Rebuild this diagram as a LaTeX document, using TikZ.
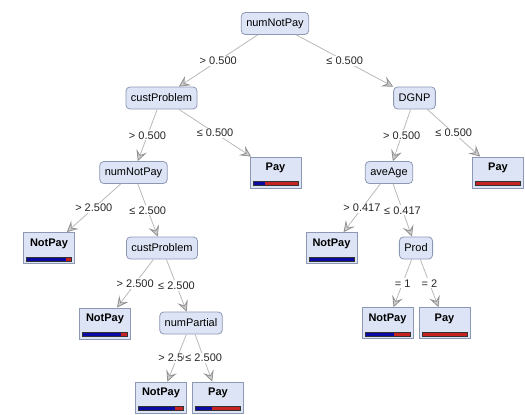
\documentclass[tikz,border=0pt]{standalone}
\usepackage{fontspec}
\setmainfont{Liberation Sans}
\usetikzlibrary{arrows.meta,calc}
\definecolor{splitfill}{RGB}{221,228,245}
\definecolor{splitdraw}{RGB}{140,152,180}
\definecolor{edgegray}{RGB}{185,185,185}
\definecolor{tipgray}{RGB}{145,145,145}
\definecolor{barblue}{RGB}{10,10,165}
\definecolor{barred}{RGB}{200,35,35}
\tikzset{
    treesplit/.style={draw=splitdraw, fill=splitfill, line width=0.8pt, rounded corners=4pt, minimum height=22pt, inner xsep=5pt, font=\fontsize{11}{13}\selectfont},
    treeleaf/.style={draw=splitdraw, fill=splitfill, line width=0.8pt, minimum width=51pt, text height=10pt, text depth=14pt, inner ysep=3.5pt, font=\bfseries\fontsize{11}{13}\selectfont},
    treeedge/.style={draw=edgegray, line width=0.8pt, -{Stealth[length=11pt, width=11pt, inset=4.5pt, color=tipgray, fill=edgegray!70]}},
    treelabel/.style={fill=white, inner sep=1.2pt, font=\fontsize{11}{13}\selectfont, text=black!85},
    treebar/.style={draw=black!80, line width=0.6pt}
}
% leaf: name, centre, class, share of blue in the bar
\newcommand{\leafnode}[4]{%
    \node[treeleaf] (#1) at (#2) {#3};
    \coordinate (#1bl) at ($(#1.south west)+(3.5pt,3pt)$);
    \coordinate (#1tr) at ($(#1.south east)+(-3.5pt,7pt)$);
    \coordinate (#1mid) at ($(#1bl)!#4!(#1tr)$);
    \fill[barred] (#1bl) rectangle (#1tr);
    \fill[barblue] (#1bl) rectangle (#1mid |- #1tr);
    \draw[treebar] (#1bl) rectangle (#1tr);
}

\begin{document}
\begin{tikzpicture}[x=1pt, y=-1pt]
    \useasboundingbox (0,0) rectangle (525,415);

    \node[treesplit] (root) at (275,23.5) {numNotPay};
    \node[treesplit] (custprob) at (161.5,98) {custProblem};
    \node[treesplit] (dgnp) at (414.5,98) {DGNP};
    \node[treesplit] (notpaycount) at (133.5,172.5) {numNotPay};
    \node[treesplit] (age) at (389,172.5) {aveAge};
    \node[treesplit] (custprobb) at (162,248) {custProblem};
    \node[treesplit] (prod) at (416,248) {Prod};
    \node[treesplit] (partial) at (191,323) {numPartial};

    \leafnode{payA}{275.5,172.5}{Pay}{0.27}
    \leafnode{payB}{498,172.5}{Pay}{0}
    \leafnode{notpayA}{49,248}{NotPay}{0.87}
    \leafnode{notpayB}{331.5,248}{NotPay}{1}
    \leafnode{notpayC}{105,323.5}{NotPay}{0.85}
    \leafnode{notpayD}{387.5,323}{NotPay}{0.65}
    \leafnode{payC}{444.5,323}{Pay}{0}
    \leafnode{notpayE}{161,397.5}{NotPay}{0.82}
    \leafnode{payD}{218,397.5}{Pay}{0.37}

    \draw[treeedge] (root) -- node[treelabel] {> 0.500} (custprob);
    \draw[treeedge] (root) -- node[treelabel] {≤ 0.500} (dgnp);
    \draw[treeedge] (custprob) -- node[treelabel] {> 0.500} (notpaycount);
    \draw[treeedge] (custprob) -- node[treelabel] {≤ 0.500} (payA);
    \draw[treeedge] (dgnp) -- node[treelabel] {> 0.500} (age);
    \draw[treeedge] (dgnp) -- node[treelabel] {≤ 0.500} (payB);
    \draw[treeedge] (notpaycount) -- node[treelabel] {> 2.500} (notpayA);
    \draw[treeedge] (notpaycount) -- node[treelabel] {≤ 2.500} (custprobb);
    \draw[treeedge] (age) -- node[treelabel] {> 0.417} (notpayB);
    \draw[treeedge] (age) -- node[treelabel] {≤ 0.417} (prod);
    \draw[treeedge] (custprobb) -- node[treelabel] {> 2.500} (notpayC);
    \draw[treeedge] (custprobb) -- node[treelabel] {≤ 2.500} (partial);
    \draw[treeedge] (prod) -- node[treelabel] {= 1} (notpayD);
    \draw[treeedge] (prod) -- node[treelabel] {= 2} (payC);
    % the second label hides the end of the first one, as in the source
    \draw[treeedge] (partial) -- node[treelabel] {> 2.500} (notpayE);
    \draw[treeedge] (partial) -- node[treelabel] {≤ 2.500} (payD);
\end{tikzpicture}
\end{document}
